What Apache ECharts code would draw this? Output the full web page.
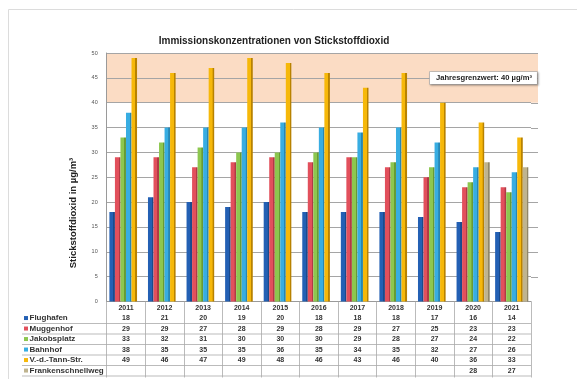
<!DOCTYPE html>
<html>
<head>
<meta charset="utf-8">
<script src="https://cdn.jsdelivr.net/npm/echarts@6/dist/echarts.min.js"></script>
<style>
  html, body { margin: 0; padding: 0; background: #fff; }
  #chart { width: 577px; height: 379px; }
</style>
</head>
<body>
<div id="chart"></div>
<script>
// Annual NO2 means per measuring station (µg/m³)
const years = ['2011', '2012', '2013', '2014', '2015', '2016', '2017', '2018', '2019', '2020', '2021'];
const flughafen = [18, 21, 20, 19, 20, 18, 18, 18, 17, 16, 14];
const muggenhof = [29, 29, 27, 28, 29, 28, 29, 27, 25, 23, 23];
const jakobsplatz = [33, 32, 31, 30, 30, 30, 29, 28, 27, 24, 22];
const bahnhof = [38, 35, 35, 35, 36, 35, 34, 35, 32, 27, 26];
const vdTannStr = [49, 46, 47, 49, 48, 46, 43, 46, 40, 36, 33];
const frankenschnellweg = [null, null, null, null, null, null, null, null, null, 28, 27];

const stationNames = ['Flughafen', 'Muggenhof', 'Jakobsplatz', 'Bahnhof', 'V.-d.-Tann-Str.', 'Frankenschnellweg'];
const stationValues = [flughafen, muggenhof, jakobsplatz, bahnhof, vdTannStr, frankenschnellweg];
const stationColors = ['#2360b4', '#e2505c', '#8dc74f', '#38ade2', '#f6b80a', '#bfb48f'];
const stationShades = ['#1a4a8c', '#b13a45', '#679b35', '#2786b3', '#b88200', '#8f8668'];

const yMin = 0, yMax = 50, yStep = 5;
const limitValue = 40;
const limitText = 'Jahresgrenzwert: 40 µg/m³';
const chartTitle = 'Immissionskonzentrationen von Stickstoffdioxid';
const yTitle = 'Stickstoffdioxid in µg/m³';

const FONT = '"Liberation Sans", Arial, sans-serif';
const gridLeft = 106.7, gridRight = 531, gridTop = 53, gridBottom = 301.5;
const plotOverhang = 7;   // grid lines and band run a little past the last column
const rowHeight = 10.5;
const bandColor = '#fbdcc4';
const gridLineColor = '#a5a5a5';

// light band above the annual limit, drawn through the split areas
const bandCount = (yMax - limitValue) / yStep;
const totalBands = (yMax - yMin) / yStep;
const splitColors = [];
for (let i = 0; i < totalBands; i++) {
  splitColors.push(i >= totalBands - bandCount ? bandColor : 'rgba(255,255,255,0)');
}

const chart = echarts.init(document.getElementById('chart'), null, { renderer: 'canvas' });

const series = stationNames.map((name, i) => ({
  name: name,
  type: 'bar',
  data: stationValues[i],
  barGap: '0%',
  barCategoryGap: '14%',
  itemStyle: {
    color: new echarts.graphic.LinearGradient(0, 0, 1, 0, [
      { offset: 0, color: stationColors[i] },
      { offset: 0.68, color: stationColors[i] },
      { offset: 0.72, color: stationShades[i] },
      { offset: 1, color: stationShades[i] }
    ])
  }
}));

// table underneath: row lines and station names with colour keys
const graphics = [
  { type: 'rect', shape: { x: 8.5, y: 9.5, width: 620, height: 420 }, style: { fill: 'none', stroke: '#dcdcdc', lineWidth: 1 }, silent: true },
  {
    type: 'text', x: 73, y: 213, rotation: Math.PI / 2,
    style: { text: yTitle, font: 'bold 9.5px ' + FONT, fill: '#222', textAlign: 'center', textVerticalAlign: 'middle' }
  }
];
const firstRowCenter = gridBottom + 1 + rowHeight * 1.5;
stationNames.forEach((name, i) => {
  const cy = firstRowCenter + i * rowHeight;
  graphics.push({
    type: 'line',
    shape: { x1: 22, y1: cy + rowHeight / 2, x2: gridRight, y2: cy + rowHeight / 2 },
    style: { stroke: '#a9a9a9', lineWidth: 0.8 }, silent: true
  });
  graphics.push({
    type: 'rect', shape: { x: 24, y: cy - 2.2, width: 4, height: 4 },
    style: { fill: stationColors[i] }, silent: true
  });
  graphics.push({
    type: 'text', x: 29.5, y: cy,
    style: { text: name, font: 'bold 8px ' + FONT, fill: '#333', textVerticalAlign: 'middle' }, silent: true
  });
});

chart.setOption({
  animation: false,
  backgroundColor: '#fff',
  title: {
    text: chartTitle,
    left: 269, top: 31, textAlign: 'center',
    textStyle: { fontFamily: FONT, fontWeight: 'bold', fontSize: 10, color: '#222' }
  },
  grid: { left: gridLeft, right: 577 - gridRight, top: gridTop, bottom: 379 - gridBottom, containLabel: false },
  xAxis: {
    type: 'category',
    data: years,
    boundaryGap: true,
    axisLine: { show: true, lineStyle: { color: '#9a9a9a', width: 1 } },
    axisTick: { show: true, interval: 0, length: 76, lineStyle: { color: '#a9a9a9', width: 0.8 } },
    axisLabel: {
      interval: 0, margin: 1,
      fontFamily: FONT, fontSize: 7, fontWeight: 'bold', color: '#333', lineHeight: rowHeight,
      formatter: (value, idx) => [value].concat(stationValues.map(arr => arr[idx] == null ? ' ' : String(arr[idx]))).join('\n')
    }
  },
  yAxis: {
    type: 'value',
    min: yMin, max: yMax, interval: yStep,
    axisLine: { show: true, lineStyle: { color: '#9a9a9a' } },
    axisTick: { show: false },
    axisLabel: { fontFamily: FONT, fontSize: 5.5, color: '#555', margin: 9 },
    splitLine: { show: true, lineStyle: { color: gridLineColor, width: 1 } },
    splitArea: { show: true, areaStyle: { color: splitColors } }
  },
  series: series,
  graphic: graphics
});

// short extension of the band and grid lines past the last column, plus the limit note
const extra = [];
const yBandTop = chart.convertToPixel({ yAxisIndex: 0 }, yMax);
const yBandBottom = chart.convertToPixel({ yAxisIndex: 0 }, limitValue);
extra.push({
  type: 'rect', shape: { x: gridRight, y: yBandTop, width: plotOverhang, height: yBandBottom - yBandTop },
  style: { fill: bandColor }, silent: true, z: -1
});
for (let v = yMin + yStep; v <= yMax; v += yStep) {
  const py = Math.round(chart.convertToPixel({ yAxisIndex: 0 }, v)) + 0.5;
  extra.push({
    type: 'line', shape: { x1: gridRight, y1: py, x2: gridRight + plotOverhang, y2: py },
    style: { stroke: gridLineColor, lineWidth: 1 }, silent: true
  });
}
extra.push({
  type: 'text', x: 430, y: 72,
  style: {
    text: limitText, font: 'bold 7.6px ' + FONT, fill: '#222',
    backgroundColor: '#fff', borderColor: '#b5b5b5', borderWidth: 0.8,
    padding: [2, 5, 2, 6],
    shadowColor: 'rgba(0,0,0,0.25)', shadowBlur: 2, shadowOffsetX: 1, shadowOffsetY: 1
  },
  z: 10
});
chart.setOption({ graphic: graphics.concat(extra) });
</script>
</body>
</html>
